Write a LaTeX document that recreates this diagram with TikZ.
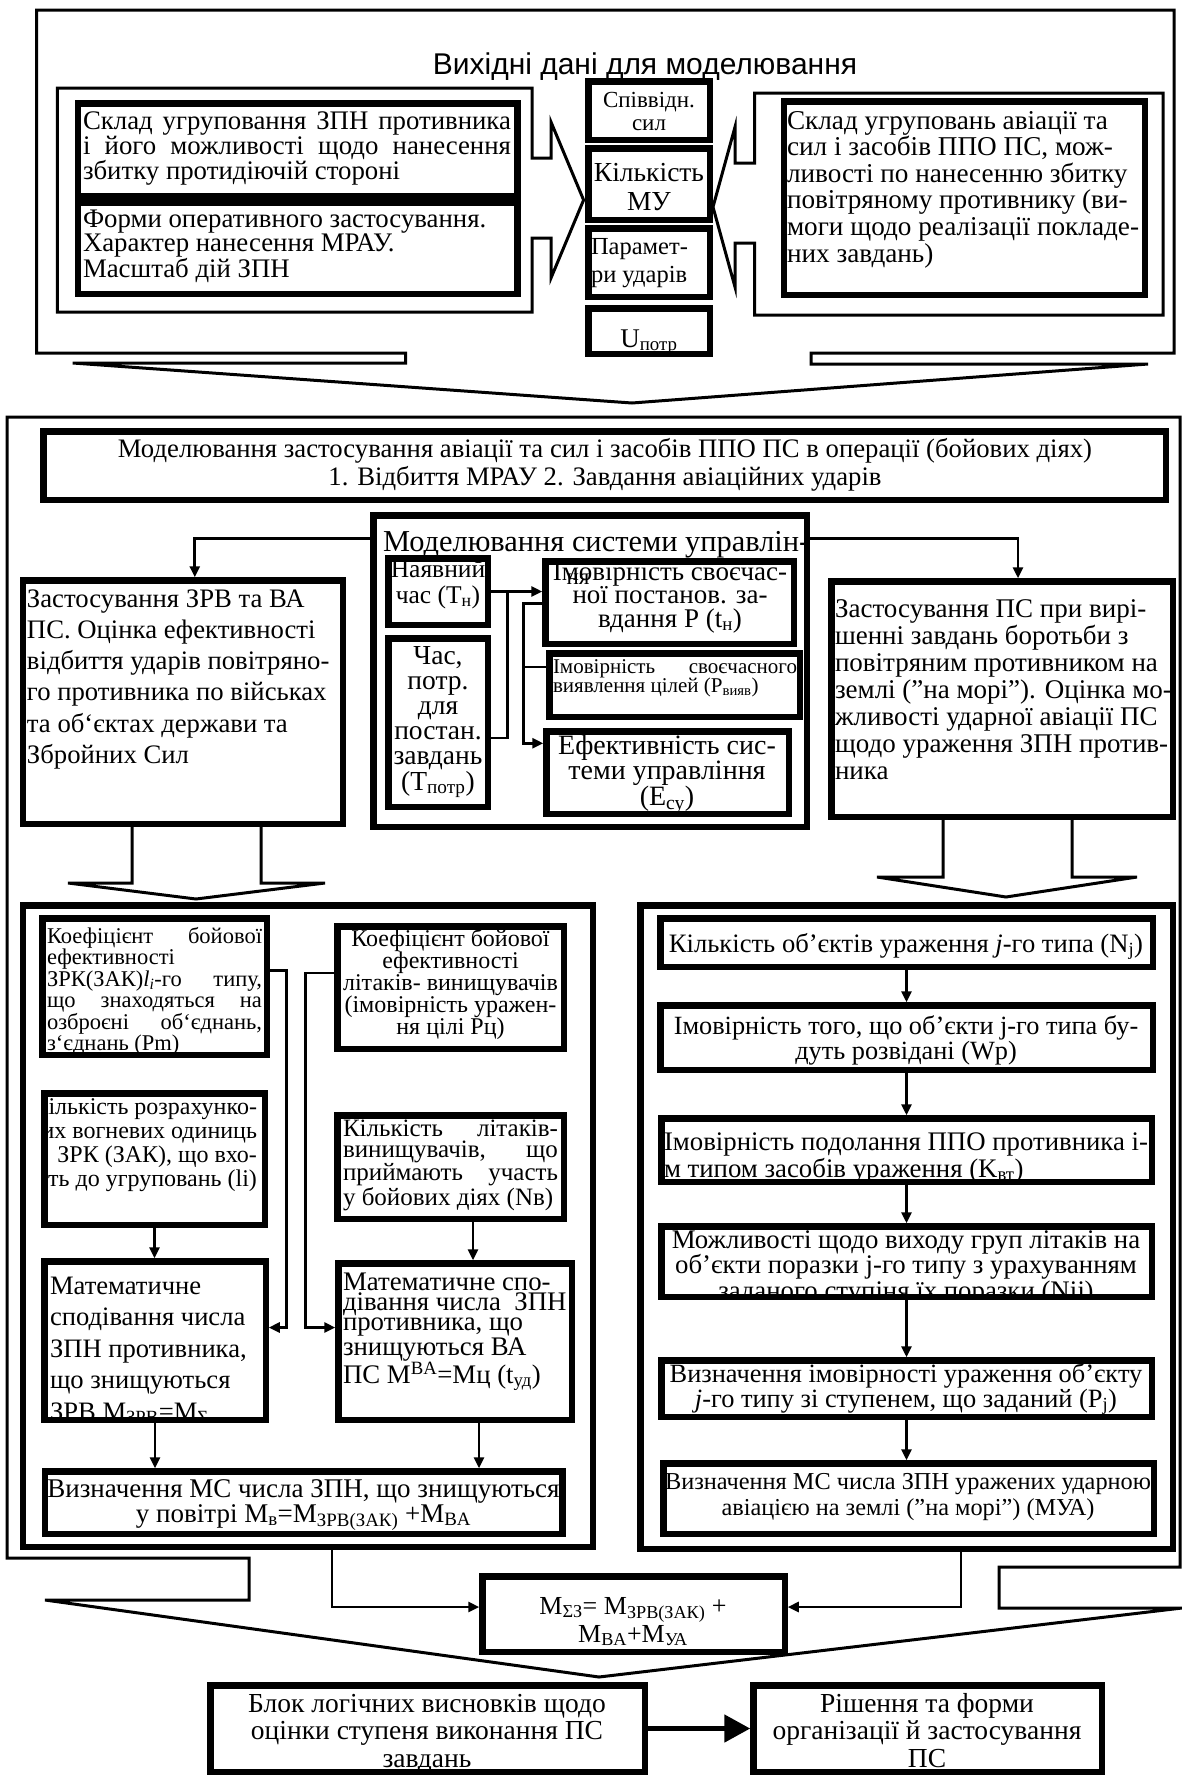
\documentclass[tikz,border=0pt]{standalone}
\usepackage{fontspec}
\setmainfont{Liberation Serif}
\newfontfamily\arialf{Liberation Sans}
\usetikzlibrary{arrows.meta,calc}
\newcommand\fs[2]{\fontsize{#1}{#2}\selectfont}
\newcommand\mybox[5]{\node[tb,minimum width={#4-#2-6.5},minimum height={#5-#3-6.5}] (#1) at ({(#2+#4)/2},{(#3+#5)/2}) {};}
\newcommand\SL[2]{\makebox[#1][s]{#2}}
\hfuzz=100pt \hbadness=10000
\tikzset{
 tb/.style={draw,line width=6.5pt,inner sep=0pt,outer sep=0pt,rectangle},
 frm/.style={draw,line width=3pt,line join=miter},
 tx/.style={inner sep=0pt,outer sep=0pt},
 con/.style={line width=2.7pt,-{Triangle[length=11pt,width=10pt]},shorten >=3pt},
 ln/.style={line width=2.7pt},
}
\begin{document}
\begin{tikzpicture}[x=1pt,y=-1pt]
\fill[white] (0,0) rectangle (1182,1778);
\useasboundingbox (0,0) rectangle (1182,1778);

% ---------------- block 1 ----------------
\draw[frm] (36.7,10) -- (1174,10) -- (1174,353) -- (811,353) -- (811,364) -- (1148,364) -- (632,403) -- (72.7,363) -- (405.6,363) -- (405.6,353) -- (36.7,353) -- cycle;
\node[tx,anchor=base,font=\arialf\fs{30}{32}] (title) at (645,74) {Вихідні дані для моделювання};

\draw[frm] (57.4,88) -- (532,88) -- (532,158) -- (551,158) -- (551,122) -- (583.6,200) -- (551,278) -- (551,238) -- (532,238) -- (532,312) -- (57.4,312) -- cycle;
\draw[frm] (754.5,93) -- (1163,93) -- (1163,315) -- (754.5,315) -- (754.5,243) -- (735,243) -- (735,287) -- (713,207) -- (735,127) -- (735,163) -- (754.5,163) -- cycle;

\mybox{bA}{74.6}{100}{520.5}{199.5}
\mybox{bB}{74.6}{199.5}{520.5}{297}
\mybox{sp}{585}{78}{713}{143}
\mybox{kil}{585}{145}{713}{223}
\mybox{par}{585}{225}{713}{300}
\mybox{upotr}{585}{305}{713}{357}
\mybox{rbox}{780.6}{98}{1148}{298}

\node[tx,anchor=base west,font=\fs{26.8}{23.3}] (tbA) at (83,129) {\parbox[t]{440pt}{\SL{428pt}{Склад угруповання ЗПН противника}\\\SL{428pt}{і його можливості щодо нанесення}\\збитку протидіючій стороні}};
\node[tx,anchor=base west,font=\fs{26.8}{23.3}] (tbB) at (83,227) {\parbox[t]{440pt}{Форми оперативного застосування.\\Характер нанесення МРАУ.\\Масштаб дій ЗПН}};
\node[tx,anchor=base,font=\fs{23}{23}] (tsp) at (649,107) {\parbox[t]{140pt}{\centering Співвідн.\\сил}};
\node[tx,anchor=base,font=\fs{27.5}{29}] (tkil) at (649,181) {\parbox[t]{140pt}{\centering Кількість\\МУ}};
\node[tx,anchor=base west,font=\fs{24.5}{28}] (tpar) at (591,254) {\parbox[t]{140pt}{Парамет-\\ри ударів}};
\node[tx,anchor=base,font=\fs{27}{27}] (tup) at (649,347) {U\textsubscript{потр}};
\node[tx,anchor=base west,font=\fs{27.2}{26.6}] (trbox) at (787,129) {\parbox[t]{400pt}{Склад угруповань авіації та\\сил і засобів ППО ПС, мож-\\ливості по нанесенню збитку\\повітряному противнику (ви-\\моги щодо реалізації покладе-\\них завдань)}};

% ---------------- block 2 ----------------
\draw[frm] (7,417) -- (1180,417) -- (1180,1567) -- (999,1567) -- (999,1608) -- (1182,1608) -- (599,1677) -- (45,1600) -- (249,1600) -- (249,1558) -- (7,1558) -- cycle;

\mybox{hdr}{40}{428}{1169}{503}
\mybox{ctrl}{370}{512}{810}{830}
\mybox{nay}{385}{555}{491}{628}
\mybox{chas}{385}{635}{491}{810}
\mybox{imov}{542}{558}{797}{647}
\mybox{pviav}{546}{650}{803}{720}
\mybox{efekt}{543}{728}{792}{817}
\mybox{zrv}{19.6}{577}{346}{827}
\mybox{rpc}{828}{578}{1176}{820}

\node[tx,anchor=base,font=\fs{26.7}{28}] (thdr) at (605,457) {\parbox[t]{1110pt}{\centering Моделювання застосування авіації та сил і засобів ППО ПС в операції (бойових діях)\\1. Відбиття МРАУ 2. Завдання авіаційних ударів}};
\node[tx,anchor=base west,font=\fs{30.4}{30}] (tctrl) at (383,551) {Моделювання системи управлін-};
\node[tx,anchor=base,font=\fs{25.5}{26}] (tnay) at (438,577) {\parbox[t]{120pt}{\centering Наявний\\час (T\textsubscript{н})}};
\node[tx,anchor=base,font=\fs{27.5}{25.2}] (tchas) at (438,664) {\parbox[t]{120pt}{\centering Час,\\потр.\\для\\постан.\\завдань\\(T\textsubscript{потр})}};
\node[tx,anchor=base,font=\fs{27}{23.5}] (timov) at (670,580) {\parbox[t]{280pt}{\centering Імовірність своєчас-\\ної постанов. за-\\вдання P (t\textsubscript{н})}};
\node[tx,anchor=base,font=\fs{23}{22}] (tnya) at (578,584) {ня};
\node[tx,anchor=base west,font=\fs{21}{19.5}] (tpviav) at (553,673) {\parbox[t]{260pt}{\SL{244pt}{Імовірність своєчасного}\\виявлення цілей (P\textsubscript{вияв})}};
\node[tx,anchor=base,font=\fs{28}{21.5}] (tefekt) at (667,754) {\parbox[t]{280pt}{\centering Ефективність сис-\\теми управління\\(E\textsubscript{су})}};
\node[tx,anchor=base west,font=\fs{26.7}{31.3}] (tzrv) at (27,607) {\parbox[t]{340pt}{Застосування ЗРВ та ВА\\ПС. Оцінка ефективності\\відбиття ударів повітряно-\\го противника по військах\\та об`єктах держави та\\Збройних Сил}};
\node[tx,anchor=base west,font=\fs{27}{27}] (trpc) at (835,617) {\parbox[t]{380pt}{Застосування ПС при вирі-\\шенні завдань боротьби з\\повітряним противником на\\землі ("на морі"). Оцінка мо-\\жливості ударної авіації ПС\\щодо ураження ЗПН против-\\ника}};

% connectors in block 2 top
\draw[con] ($(ctrl.north west)+(0,23)$) -| ($(zrv.north)+(12,0)$);
\draw[con] ($(ctrl.north east)+(0,23)$) -| ($(rpc.north)+(16,0)$);
\draw[con] (nay.east) -- (nay.east -| imov.west);
\draw[ln] ($(chas.east)+(0,15.5)$) -| ($(nay.east)+(20,0)$);
\draw[con] ($(imov.north west)+(0,42)$) -- ++(-22,0) |- ($(efekt.north west)+(0,12)$);
\draw[ln] ($(pviav.west)+(0,-18)$) -- ++(-26,0);

% block arrows
\draw[frm] (132,827) -- (132,883) -- (68,883) -- (196,899) -- (325,883) -- (261,883) -- (261,827);
\draw[frm] (943,820) -- (943,877) -- (877,877) -- (1006,897) -- (1137,877) -- (1072,877) -- (1072,820);

% ---------------- left sub ----------------
\mybox{lsub}{19.6}{902}{596}{1550}
\mybox{koefA}{39}{915}{270}{1058}
\mybox{koefB}{334}{923}{567}{1052}
\mybox{kilr}{41}{1090}{268}{1228}
\mybox{kill}{334}{1112}{567}{1222}
\mybox{matA}{41}{1258}{269}{1423}
\mybox{matB}{335}{1260}{575}{1423}
\mybox{vmsl}{41.5}{1468}{565.5}{1537}

\node[tx,anchor=base west,font=\fs{22.5}{21.5}] (tkoefA) at (47,943) {\parbox[t]{240pt}{\SL{215pt}{Коефіцієнт бойової}\\ефективності\\\SL{215pt}{ЗРК(ЗАК)\textit{l\textsubscript{i}}-го типу,}\\\SL{215pt}{що знаходяться на}\\\SL{215pt}{озброєні об`єднань,}\\з`єднань (Pm)}};
\node[tx,anchor=base,font=\fs{24}{22}] (tkoefB) at (450.5,946) {\parbox[t]{260pt}{\centering Коефіцієнт бойової\\ефективності\\літаків- винищувачів\\(імовірність уражен-\\ня цілі Pц)}};
\begin{scope}
\clip (kilr.north west) rectangle (kilr.south east);
\node[tx,anchor=base east,font=\fs{24}{24}] (tkilr) at (257,1114) {\parbox[t]{260pt}{\raggedleft Кількість розрахунко-\\вих вогневих одиниць\\ЗРК (ЗАК), що вхо-\\дять до угруповань (li)}};
\end{scope}
\node[tx,anchor=base west,font=\fs{25}{21.3}] (tkill) at (343,1136) {\parbox[t]{260pt}{\SL{215pt}{Кількість літаків-}\\\SL{215pt}{винищувачів, що}\\\SL{215pt}{приймають участь}\\у бойових діях (Nв)}};
\begin{scope}
\clip (matA.north west) rectangle (matA.south east);
\node[tx,anchor=base west,font=\fs{26.6}{31.5}] (tmatA) at (50,1294) {\parbox[t]{240pt}{Математичне\\сподівання числа\\ЗПН противника,\\що знищуються\\ЗРВ M\textsubscript{ЗРВ}=M\textsubscript{Σ}}};
\end{scope}
\node[tx,anchor=base west,font=\fs{26.8}{20.3}] (tmatB) at (343,1290) {\parbox[t]{260pt}{Математичне спо-\\дівання числа\ \ ЗПН\\противника, що\\\ знищуються ВА\\ПС M\textsuperscript{BA}=Mц (t\textsubscript{уд})}};
\node[tx,anchor=base,font=\fs{27}{25}] (tvmsl) at (303.5,1497) {\parbox[t]{560pt}{\centering Визначення МС числа ЗПН, що знищуються\\у повітрі M\textsubscript{в}=M\textsubscript{ЗРВ(ЗАК)} +M\textsubscript{BA}}};

\draw[con] ($(koefA.east)+(0,-16)$) -- ++(20,0) |- ($(matA.east)+(0,-13)$);
\draw[con] ($(koefB.west)+(0,-14.5)$) -- ++(-32,0) |- ($(matB.west)+(0,-14)$);
\draw[con] (kilr.south) -- (kilr.south |- matA.north);
\coordinate (kA) at ($(kill.south)+(22.5,0)$);
\draw[con] (kA) -- (kA |- matB.north);
\draw[con] (matA.south) -- (matA.south |- vmsl.north);
\coordinate (kB) at ($(matB.south)+(24,0)$);
\draw[con] (kB) -- (kB |- vmsl.north);

% ---------------- right sub ----------------
\mybox{rsub}{637}{902}{1176}{1552}
\mybox{kob}{657}{915}{1156}{970}
\mybox{imt}{657}{1002}{1156}{1073}
\mybox{imp}{658}{1115}{1155}{1185}
\mybox{mozh}{658}{1223}{1155}{1300}
\mybox{vim}{658}{1357}{1155}{1420}
\mybox{vmsr}{660}{1460}{1157}{1537}

\node[tx,anchor=base,font=\fs{26.6}{24}] (tkob) at (906,952) {Кількість об'єктів ураження \textit{j}-го типа (N\textsubscript{j})};
\node[tx,anchor=base,font=\fs{26.3}{25}] (timt) at (906,1034) {\parbox[t]{540pt}{\centering Імовірність того, що об'єкти j-го типа бу-\\дуть розвідані (Wp)}};
\begin{scope}
\clip (imp.north west) rectangle (imp.south east);
\node[tx,anchor=base west,font=\fs{26.8}{27}] (timp) at (664,1150) {\parbox[t]{520pt}{\SL{484pt}{Імовірність подолання ППО противника і-}\\м типом засобів ураження (K\textsubscript{вт})}};
\end{scope}
\begin{scope}
\clip (mozh.north west) rectangle (mozh.south east);
\node[tx,anchor=base,font=\fs{26.8}{21}] (tmozh) at (906,1248) {\parbox[t]{540pt}{\centering Можливості щодо виходу груп літаків на\\об’єкти поразки j-го типу з урахуванням\\заданого ступіня їх поразки (Nij)}};
\end{scope}
\node[tx,anchor=base,font=\fs{26.4}{25}] (tvim) at (906,1382) {\parbox[t]{540pt}{\centering Визначення імовірності ураження об'єкту\\\textit{j}-го типу зі ступенем, що заданий (P\textsubscript{j})}};
\node[tx,anchor=base,font=\fs{24.3}{26}] (tvmsr) at (908,1489) {\parbox[t]{540pt}{\centering Визначення МС числа ЗПН уражених ударною\\авіацією на землі ("на морі") (МУА)}};

\draw[con] (kob.south) -- (kob.south |- imt.north);
\draw[con] (imt.south) -- (imt.south |- imp.north);
\draw[con] (imp.south) -- (imp.south |- mozh.north);
\draw[con] (mozh.south) -- (mozh.south |- vim.north);
\draw[con] (vim.south) -- (vim.south |- vmsr.north);

% ---------------- bottom ----------------
\mybox{msum}{479}{1573}{788}{1655}
\mybox{blok}{207}{1682}{648}{1775}
\mybox{rish}{750}{1682}{1105}{1775}

\node[tx,anchor=base,font=\fs{26}{28}] (tmsum) at (633,1614) {\parbox[t]{320pt}{\centering M\textsubscript{ΣЗ}= M\textsubscript{ЗРВ(ЗАК)} +\\M\textsubscript{BA}+M\textsubscript{УА}}};
\node[tx,anchor=base,font=\fs{27.5}{27.5}] (tblok) at (427,1712) {\parbox[t]{460pt}{\centering Блок логічних висновків щодо\\оцінки ступеня виконання ПС\\завдань}};
\node[tx,anchor=base,font=\fs{27.5}{27.5}] (trish) at (927,1712) {\parbox[t]{380pt}{\centering Рішення та форми\\організації й застосування\\ПС}};

\coordinate (kC) at (332,0);
\coordinate (kD) at (961,0);
\draw[con] (lsub.south -| kC) |- ($(msum.west)+(0,-7)$);
\draw[con] (rsub.south -| kD) |- ($(msum.east)+(0,-7)$);
\draw[line width=5pt,-{Triangle[length=26pt,width=27pt]},shorten >=3pt] (blok.east) -- (rish.west);
\end{tikzpicture}
\end{document}
